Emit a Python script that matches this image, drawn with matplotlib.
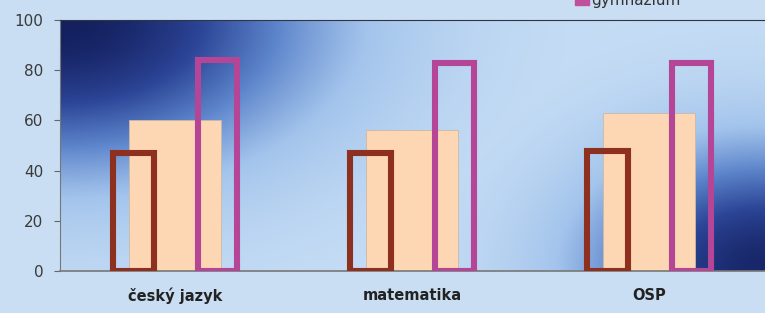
import numpy as np
import matplotlib.pyplot as plt
from matplotlib.colors import LinearSegmentedColormap

categories = ["český jazyk", "matematika", "OSP"]
brown_vals = [47, 47, 48]
peach_vals = [60, 56, 63]
pink_vals = [84, 83, 83]
yticks = [0, 20, 40, 60, 80, 100]

fig = plt.figure(figsize=(7.65, 3.13), dpi=100, facecolor='#c9def2')
ax = fig.add_axes([60/765, 1 - 271/313, 705/765, 251/313])
ax.set_facecolor('#c9def2')

# background gradient: dark in top-left and bottom-right corners, light middle
nx, ny = 300, 120
gx, gy = np.meshgrid(np.linspace(0, 1, nx), np.linspace(0, 1, ny))
d1 = (gx / 0.55) ** 2 + ((1 - gy) / 0.9) ** 2
d2 = ((1 - gx) / 0.38) ** 2 + (gy / 0.75) ** 2
dark = np.maximum(np.exp(-2.2 * d1), 0.95 * np.exp(-2.2 * d2))
cmap = LinearSegmentedColormap.from_list('bg', ['#c6ddf5', '#a3c4ec', '#5d85cb', '#2c4597', '#14205f'])
ax.imshow(dark, cmap=cmap, vmin=0, vmax=1, origin='lower', aspect='auto',
          extent=[0, 1, 0, 1], transform=ax.transAxes, zorder=0, interpolation='bilinear')

x = np.arange(len(categories))
ax.bar(x, peach_vals, width=0.39, color='#fdd6b3', edgecolor='#c9b9a8', linewidth=0.6, zorder=2)
ax.bar(x - 0.175, brown_vals, width=0.175, fill=False, edgecolor='#8e3020', linewidth=4.4, zorder=3)
ax.bar(x + 0.18, pink_vals, width=0.168, fill=False, edgecolor='#b54597', linewidth=4.4, zorder=3)

ax.set_xlim(-0.485, 2.49)
ax.set_ylim(0, 100)
ax.set_yticks(yticks)
ax.set_xticks(x)
ax.set_xticklabels(categories, fontweight='bold', fontsize=10.5, color='#222222')
ax.tick_params(axis='x', length=0, pad=12)
ax.tick_params(axis='y', length=4, color='#666666', labelsize=11, labelcolor='#3a3a3a', pad=8)
ax.spines['right'].set_visible(False)
ax.spines['top'].set_color('#333344')
ax.spines['left'].set_color('#777777')
ax.spines['bottom'].set_color('#777777')
ax.spines['bottom'].set_linewidth(1.2)

# legend remnant at the top edge (cropped in the scan)
fig.patches.append(plt.Rectangle((575/765, 1 - 5/313), 14/765, 10/313, transform=fig.transFigure,
                                 color='#c0509e', figure=fig))
fig.text(591/765, 1.0, "gymnázium", fontsize=11, color='#333333', va='center', ha='left')

fig.savefig('out.png', dpi=100, facecolor=fig.get_facecolor())
